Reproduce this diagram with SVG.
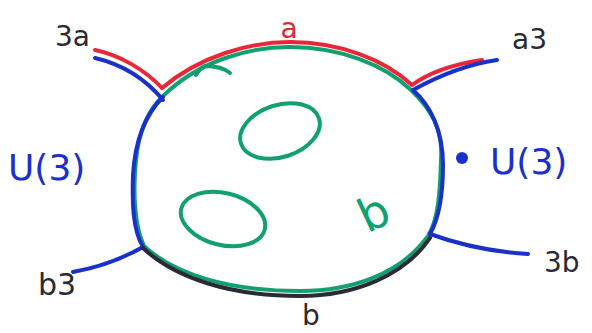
<svg xmlns="http://www.w3.org/2000/svg" width="592" height="333" viewBox="0 0 592 333">
<style>
.ln{fill:none;stroke-width:4;stroke-linecap:round;stroke-linejoin:round}
.g{stroke:#12a070}.r{stroke:#e8283a}.b{stroke:#1a30c8}.k{stroke:#2a2a38}
.t{font-family:"DejaVu Sans","Liberation Sans",sans-serif}
.tk{fill:#2a2a30}.tb{fill:#1a30c8}.tr{fill:#e0283a}.tg{fill:#12a070}
</style>
<rect width="592" height="333" fill="#fff"/>
<g id="region">
<path class="ln g" d="M163,96 C200,60 250,47 290,47 C340,47 385,65 411,90 C432,110 443,130 441,160 C440,195 438,220 428,236 C400,275 350,291 300,291 C230,291 175,275 144,246 C134,225 133,190 136,160 C139,130 148,110 163,96 Z"/>
<ellipse class="ln g" cx="280" cy="131" rx="41" ry="26" transform="rotate(-18 280 131)"/>
<ellipse class="ln g" cx="223" cy="219" rx="43" ry="26" transform="rotate(14 223 219)"/>
<path class="ln g" d="M196,75 C199,70 202,67 205,66 C215,66 224,68 230,73" stroke-width="3"/>
<text class="t tg" x="358" y="228" font-size="46" transform="rotate(-25 375 210)">b</text>
</g>
<g id="connectors">
<path class="ln r" d="M95,50 C120,55 145,70 162,88"/>
<path class="ln r" d="M162,88 C200,56 250,42 290,42 C340,42 385,60 412,85"/>
<path class="ln r" d="M412,85 C430,72 455,64 482,60"/>
<path class="ln b" d="M95,58 C125,65 148,82 163,100"/>
<path class="ln b" d="M163,97 C145,115 135,140 133,175 C132,205 133,230 143,247"/>
<path class="ln b" d="M143,247 C120,260 95,268 73,272"/>
<path class="ln b" d="M413,90 C440,75 470,64 497,60"/>
<path class="ln b" d="M413,90 C430,105 443,130 443,165 C443,195 438,220 430,234"/>
<path class="ln b" d="M430,234 C460,245 495,252 528,254"/>
<path class="ln k" d="M430,238 C405,275 355,296 300,296 C230,296 175,278 143,248"/>
</g>
<g id="labels">
<text class="t tk" x="55" y="46" font-size="28">3a</text>
<text class="t tr" x="289" y="38" font-size="28" text-anchor="middle">a</text>
<text class="t tk" x="512" y="49" font-size="28">a3</text>
<text class="t tb" x="8" y="180" font-size="36">U(3)</text>
<circle cx="462" cy="158" r="6" fill="#1a30c8"/>
<text class="t tb" x="490" y="174" font-size="36">U(3)</text>
<text class="t tk" x="38" y="295" font-size="30">b3</text>
<text class="t tk" x="544" y="272" font-size="28">3b</text>
<text class="t tk" x="302" y="325" font-size="28">b</text>
</g>
</svg>
